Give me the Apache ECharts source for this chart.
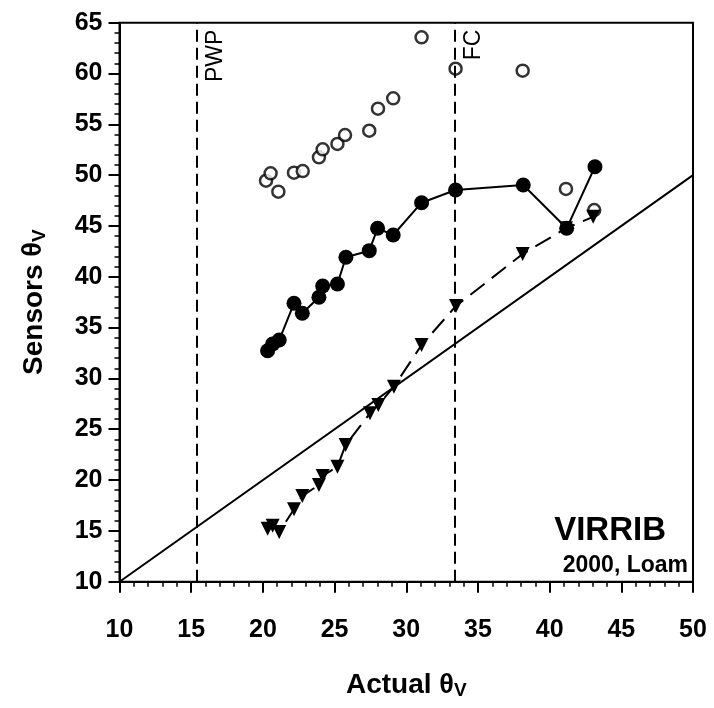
<!DOCTYPE html>
<html>
<head>
<meta charset="utf-8">
<script src="https://cdn.jsdelivr.net/npm/echarts@6/dist/echarts.min.js"></script>
<style>html,body{margin:0;padding:0;background:#fff;}#c{width:714px;height:708px;}</style>
</head>
<body>
<div id="c"></div>
<script>
// Open circles
const openX = [20.22, 20.54, 21.08, 22.17, 22.78, 23.91, 24.17, 25.2, 25.73, 27.42, 28.03, 29.09, 31.07, 33.44, 38.12, 41.14, 43.11];
const openY = [49.45, 50.18, 48.37, 50.24, 50.4, 51.76, 52.54, 53.07, 53.95, 54.37, 56.54, 57.56, 63.56, 60.47, 60.28, 48.64, 46.57];
// Filled circles (solid line)
const filledX = [20.33, 20.68, 21.14, 22.17, 22.75, 23.91, 24.17, 25.2, 25.79, 27.42, 28.0, 29.09, 31.07, 33.44, 38.16, 41.19, 43.16];
const filledY = [32.73, 33.39, 33.78, 37.39, 36.41, 37.98, 39.1, 39.29, 41.92, 42.57, 44.77, 44.11, 47.29, 48.54, 49.03, 44.77, 50.83];
// Inverted triangles (dashed line)
const triX = [20.33, 20.68, 21.14, 22.17, 22.75, 23.91, 24.17, 25.2, 25.77, 27.47, 28.05, 29.14, 31.07, 33.47, 38.12, 41.14, 43.04];
const triY = [15.2, 15.5, 14.9, 17.13, 18.44, 19.52, 20.4, 21.32, 23.45, 26.57, 27.39, 29.19, 33.29, 37.13, 42.24, 44.77, 45.9];
// 1:1 line
const oneToOneX = [10, 50];
const oneToOneY = [10, 50];
// Reference vertical lines
const refX = [15.4, 33.4];
const refLabels = ['PWP', 'FC'];
// Axis ticks
const xTicks = [10, 15, 20, 25, 30, 35, 40, 45, 50];
const yTicks = [10, 15, 20, 25, 30, 35, 40, 45, 50, 55, 60, 65];

const zip = (a, b) => a.map((v, i) => [v, b[i]]);
const FONT = "'Liberation Sans', Arial, sans-serif";
const nameStyle = {
  color: '#000', fontFamily: FONT, fontWeight: 'bold', fontSize: 28,
  rich: {
    t: {fontFamily: FONT, fontSize: 27, color: '#000'},
    s: {fontFamily: FONT, fontWeight: 'bold', fontSize: 19, color: '#000', verticalAlign: 'bottom', padding: [12, 0, 0, 0]}
  }
};

const chart = echarts.init(document.getElementById('c'), null, {renderer: 'canvas'});
chart.setOption({
  backgroundColor: '#fff',
  animation: false,
  grid: {left: 119.5, right: 21, top: 22.7, bottom: 126.3, show: true, borderColor: '#000', borderWidth: 2, backgroundColor: 'transparent'},
  xAxis: {
    type: 'value', min: xTicks[0], max: xTicks[xTicks.length - 1], interval: 5,
    axisLine: {show: true, onZero: false, lineStyle: {color: '#000', width: 2}},
    axisTick: {show: true, length: 11, lineStyle: {color: '#000', width: 2}},
    minorTick: {show: true, splitNumber: 5, length: 5, lineStyle: {color: '#000', width: 1.5}},
    splitLine: {show: false},
    axisLabel: {margin: 36, color: '#000', fontFamily: FONT, fontWeight: 'bold', fontSize: 25},
    name: 'Actual {t|θ}{s|V}', nameLocation: 'middle', nameGap: 88,
    nameTextStyle: nameStyle
  },
  yAxis: {
    type: 'value', min: yTicks[0], max: yTicks[yTicks.length - 1], interval: 5,
    axisLine: {show: true, onZero: false, lineStyle: {color: '#000', width: 2}},
    axisTick: {show: true, length: 11, lineStyle: {color: '#000', width: 2}},
    minorTick: {show: true, splitNumber: 5, length: 5, lineStyle: {color: '#000', width: 1.5}},
    splitLine: {show: false},
    axisLabel: {margin: 17, color: '#000', fontFamily: FONT, fontWeight: 'bold', fontSize: 25},
    name: 'Sensors {t|θ}{s|V}', nameLocation: 'middle', nameGap: 70, nameRotate: 90,
    nameTextStyle: nameStyle
  },
  series: [
    {
      type: 'line', data: zip(oneToOneX, oneToOneY), showSymbol: false, symbol: 'none',
      lineStyle: {color: '#000', width: 2}, silent: true, z: 1,
      markLine: {
        silent: true, symbol: 'none',
        lineStyle: {color: '#000', width: 2, type: [12, 6]},
        label: {show: true, position: 'insideEndBottom', color: '#000', fontFamily: FONT, fontSize: 23, distance: 7,
          formatter: p => refLabels[p.dataIndex]},
        data: refX.map(v => ({xAxis: v}))
      }
    },
    {
      type: 'scatter', data: zip(openX, openY), symbol: 'circle', symbolSize: 12,
      itemStyle: {color: '#fff', borderColor: '#000', borderWidth: 2.5}, z: 3
    },
    {
      type: 'line', data: zip(filledX, filledY), symbol: 'circle', symbolSize: 15, showAllSymbol: true,
      itemStyle: {color: '#000'}, lineStyle: {color: '#000', width: 2}, z: 4
    },
    {
      type: 'line', data: zip(triX, triY), symbol: 'triangle', symbolRotate: 180, symbolSize: 14, showAllSymbol: true,
      itemStyle: {color: '#000'}, lineStyle: {color: '#000', width: 2, type: [18, 9]}, z: 4
    }
  ],
  graphic: [
    {type: 'text', right: 48, bottom: 161, style: {text: 'VIRRIB', fill: '#000', font: "bold 33px 'Liberation Sans', Arial, sans-serif"}},
    {type: 'text', right: 26, bottom: 131, style: {text: '2000, Loam', fill: '#000', font: "bold 23px 'Liberation Sans', Arial, sans-serif"}}
  ]
});
</script>
</body>
</html>
